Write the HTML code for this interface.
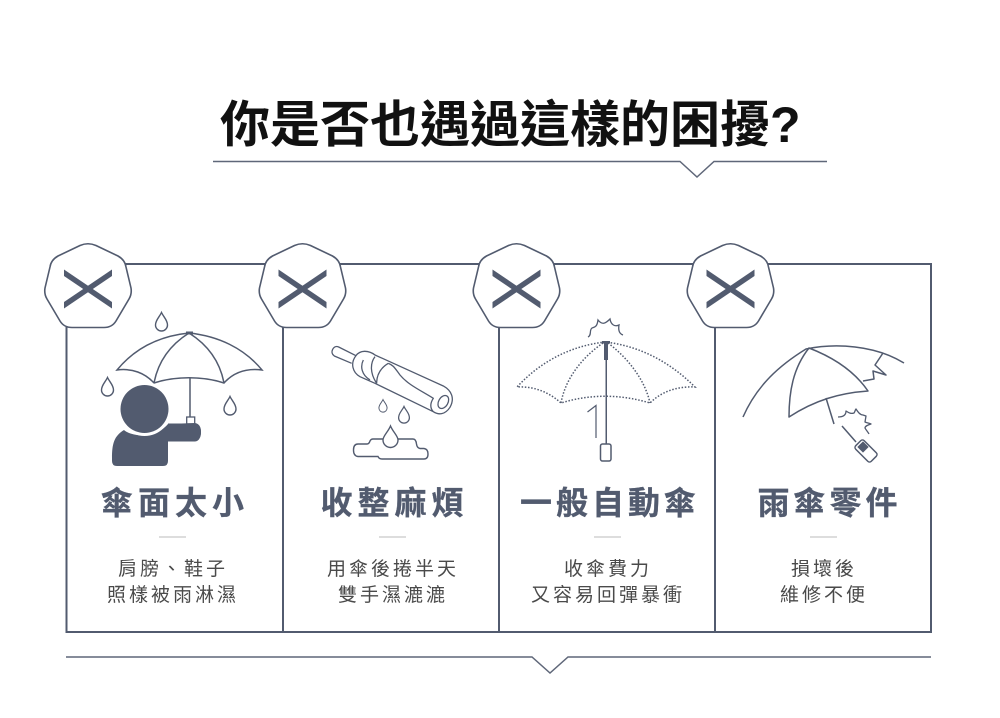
<!DOCTYPE html>
<html><head><meta charset="utf-8">
<style>html,body{margin:0;padding:0;background:#fff}svg{display:block}
text{font-family:"Liberation Sans","Noto Sans CJK TC",sans-serif;text-anchor:middle}
.t{font-size:50px;font-weight:700;fill:#111;text-anchor:start}
.h{font-size:32px;font-weight:700;fill:#525b6f;letter-spacing:4px;stroke:#525b6f;stroke-width:.3px}
.d{font-size:19px;fill:#4a4a4a;letter-spacing:3px}
</style></head><body>
<svg width="1000" height="718" viewBox="0 0 1000 718" xmlns="http://www.w3.org/2000/svg">
<defs>
<g id="hx">
<path d="M-8 -41.500 Q0 -45 8 -41.500 L30 -31 Q37 -27 38 -20 L43 1 Q44 7 41 12 L28 34 Q24 40.500 16 40.500 L-16 40.500 Q-24 40.500 -28 34 L-41 12 Q-44 7 -43 1 L-38 -20 Q-37 -27 -30 -31 Z" fill="#fff" stroke="#525b6f" stroke-width="1.600"/>
<path d="M-24 -17.500 L24 15 L24 21.500 L-24 -11 Z" fill="#525b6f"/>
<path d="M24 -17.500 L24 -11 L-24 21.500 L-24 15 Z" fill="#525b6f"/>
</g>
<path id="dp" d="M0 -9.500 C2 -5 6 -2 6 3 A6 6 0 0 1 -6 3 C-6 -2 -2 -5 0 -9.500Z" fill="#fff" stroke="#525b6f" stroke-width="1.400"/>
</defs>
<rect width="1000" height="718" fill="#fff"/>
<text class="t" x="220" y="142">你是否也遇過這樣的困擾?</text>
<path d="M213 161.500H680L697 177L714 161.500H827" fill="none" stroke="#5f6779" stroke-width="1.500"/>
<path d="M66.500 264H931V632H66.500ZM283 264V632M499 264V632M715 264V632" fill="none" stroke="#525b6f" stroke-width="2"/>
<path d="M66 657H532L550 673L568 657H931" fill="none" stroke="#5f6779" stroke-width="1.500"/>
<use href="#hx" x="88" y="287"/><use href="#hx" x="302.500" y="287"/><use href="#hx" x="516.500" y="287"/><use href="#hx" x="730.500" y="287"/>

<!-- umbrella 1 -->
<g fill="none" stroke="#525b6f" stroke-width="1.500">
<path d="M189 333C160 336 135 348 117 370C132 368 145 373 154 383C175 376 203 376 224 383C233 373 246 368 262 370C244 348 218 336 189 333Z" fill="#fff"/>
<path d="M189 333C170 345 158 362 154 383M189 333C208 345 220 362 224 383M190 378V418"/>
</g>
<rect x="186" y="331.500" width="7" height="3" fill="#525b6f"/>
<rect x="186.700" y="417" width="8" height="7" fill="#fff" stroke="#525b6f" stroke-width="1.300"/>
<path d="M112 458C112 444 114 436 124 430C132 437 155 439 168 424L195 423C204 424 202 441 195 441L168 441V461Q168 466 163 466H117Q112 466 112 461Z" fill="#525b6f"/>
<circle cx="144.500" cy="409" r="27" fill="#fff"/>
<circle cx="144.500" cy="409" r="24" fill="#525b6f"/>
<path d="M168 423.500H195C203 424 203 441 195 441.500H168Z" fill="#525b6f"/>
<use href="#dp" x="161.500" y="322"/><use href="#dp" x="107.500" y="387"/><use href="#dp" x="230" y="406"/>

<!-- closed umbrella -->
<g fill="none" stroke="#525b6f" stroke-width="3.900" stroke-linejoin="round" transform="translate(280,300) scale(.3333)">
<path d="M215 190L163 168Q152 160 158 148Q165 136 176 141L228 167"/>
<path d="M228 167C240 150 265 150 285 165L490 258C515 272 525 295 510 322C495 345 475 345 460 335L285 250L240 230C218 218 210 190 228 167Z"/>
<path d="M250 180C240 200 245 225 270 240M285 170C270 190 270 220 290 250M325 190C300 205 290 225 290 250M325 190C340 195 345 205 360 225C385 255 420 270 460 295C450 310 450 325 460 335"/>
<ellipse cx="490" cy="306" rx="14" ry="21" transform="rotate(30 490 306)"/>
</g>
<use href="#dp" transform="translate(383,406) scale(.68)"/><use href="#dp" transform="translate(404,415) scale(.9)"/>
<path d="M358 444H367Q369 444 370 441Q371 439 373 439H413Q416 439 416.500 444Q417 448 420 448.500H424Q428 449 428 454Q428 459 424 459H382Q379 459 378 456.500H358Q353.500 456 353.500 450Q353.500 444 358 444Z" fill="#fff" stroke="#525b6f" stroke-width="1.400"/>
<path d="M390.500 426C388 432 383 436 383 440A7.500 7.500 0 0 0 398 440C398 436 393 432 390.500 426Z" fill="#fff" stroke="#525b6f" stroke-width="1.400"/>

<!-- umbrella 3 -->
<g fill="none" stroke="#525b6f" stroke-width="1.500" stroke-dasharray="1.500 1.700">
<path d="M605 342C570 346 540 362 517 387C535 386 550 393 561 403C590 394 620 394 650 403C660 393 675 386 695 387C670 362 640 346 605 342Z"/>
<path d="M603 343C581 358 565 380 561 403M608 343C628 358 645 380 650 403"/>
</g>
<path d="M602 341H610V343.500H608V360H607V444H605.500V360H604V343.500H602Z" fill="#525b6f"/>
<rect x="600.500" y="444" width="10.500" height="17" rx="2" fill="none" stroke="#525b6f" stroke-width="1.500"/>
<path d="M587.500 412L596 405.500L596 438" fill="none" stroke="#525b6f" stroke-width="1.200"/>
<path d="M588 337C592 335 589 330 592 328C595 327 597 327 598 320C602 325 605 324 610 319C611 325 615 327 619 325C618 331 620 334 623 335" fill="none" stroke="#525b6f" stroke-width="1.300"/>

<!-- umbrella 4 -->
<g fill="none" stroke="#525b6f" stroke-width="1.500" stroke-linejoin="round">
<path d="M743 417C757 385 780 365 806 349C835 343 875 345 904 363"/>
<path d="M809 348C793 368 789 392 789 417C815 400 840 393 868 391C855 372 835 358 809 348Z"/>
<path d="M826 398L834 424M842 426L856 442M883 353L875 365L886 375L873 371L874 379L863 381"/>
<path d="M838 417C842 417 846 416 846 411C849 413 851 414 854 413C855 412 855 410 856 409C858 412 860 415 863 415L866 416L865 422C867 423 869 423 871 424C868 425 865 426 865 428C866 430 868 432 869 434" stroke-width="1.300"/>
<rect x="855" y="445" width="22" height="12" rx="2.500" transform="rotate(45 866 451)"/>
</g>
<rect x="859" y="443" width="8" height="8" fill="#525b6f" transform="rotate(45 863 447)"/>

<text class="h" x="175" y="514" style="letter-spacing:5px">傘面太小</text>
<text class="h" x="394.500" y="514" style="letter-spacing:5px">收整麻煩</text>
<text class="h" x="610" y="514">一般自動傘</text>
<text class="h" x="829.500" y="514">雨傘零件</text>
<path d="M159 537H186M379 537H406M594 537H621M810 537H837" stroke="#bbb" stroke-width="1"/>
<text class="d" x="173" y="575">肩膀、鞋子</text><text class="d" x="173" y="601">照樣被雨淋濕</text>
<text class="d" x="393" y="575">用傘後捲半天</text><text class="d" x="393" y="601">雙手濕漉漉</text>
<text class="d" x="608" y="575">收傘費力</text><text class="d" x="608" y="601">又容易回彈暴衝</text>
<text class="d" x="824" y="575">損壞後</text><text class="d" x="824" y="601">維修不便</text>
</svg></body></html>
